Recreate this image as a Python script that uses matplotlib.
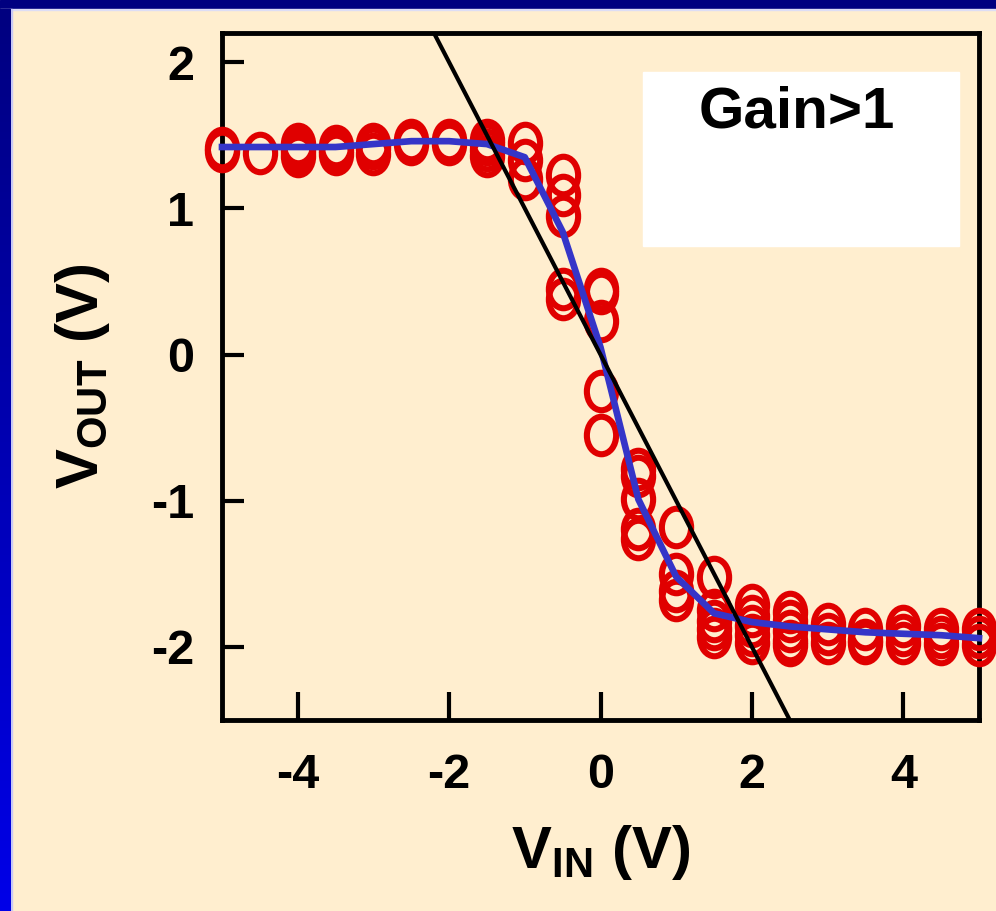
import numpy as np
import matplotlib
matplotlib.use('Agg')
import matplotlib.pyplot as plt
from matplotlib.path import Path

plt.rcParams['font.family'] = ['Liberation Sans', 'DejaVu Sans']
plt.rcParams['font.weight'] = 'bold'
plt.rcParams['axes.unicode_minus'] = False
plt.rcParams['mathtext.fontset'] = 'custom'
plt.rcParams['mathtext.rm'] = 'Liberation Sans:bold'
plt.rcParams['mathtext.bf'] = 'Liberation Sans:bold'
plt.rcParams['mathtext.it'] = 'Liberation Sans:bold'

# measured points (V_IN, V_OUT), several sweeps overlap at each V_IN
meas_x = ([-5]*2 + [-4.5] + [-4]*4 + [-3.5]*3 + [-3]*3 + [-2.5]*2 + [-2]*2
          + [-1.5]*4 + [-1]*3 + [-0.5]*5 + [0]*5 + [0.5]*5 + [1]*4 + [1.5]*5
          + [2]*5 + [2.5]*5 + [3]*3 + [3.5]*3 + [4]*3 + [4.5]*3 + [5]*3)
meas_y = [1.39, 1.41,
          1.38,
          1.36, 1.39, 1.42, 1.44,
          1.37, 1.40, 1.43,
          1.37, 1.41, 1.44,
          1.44, 1.47,
          1.44, 1.47,
          1.36, 1.40, 1.44, 1.47,
          1.45, 1.33, 1.20,
          1.23, 1.09, 0.95, 0.45, 0.38,
          0.45, 0.42, 0.23, -0.25, -0.55,
          -0.78, -0.83, -0.99, -1.19, -1.26,
          -1.18, -1.50, -1.62, -1.68,
          -1.52, -1.75, -1.82, -1.88, -1.93,
          -1.71, -1.79, -1.86, -1.92, -1.97,
          -1.76, -1.82, -1.89, -1.96, -1.99,
          -1.84, -1.91, -1.97,
          -1.88, -1.95, -1.97,
          -1.86, -1.92, -1.97,
          -1.88, -1.93, -1.98,
          -1.88, -1.93, -1.99]

# averaged transfer curve
avg_x = [-5, -4.5, -4, -3.5, -3, -2.5, -2, -1.5, -1, -0.5, 0,
         0.5, 1, 1.5, 2, 2.5, 3, 3.5, 4, 4.5, 5]
avg_y = [1.42, 1.42, 1.42, 1.42, 1.44, 1.46, 1.46, 1.44, 1.35, 0.84, 0.05,
         -0.99, -1.52, -1.77, -1.83, -1.86, -1.88, -1.90, -1.91, -1.92, -1.94]

# unity gain reference (slope -1)
ref_x = [-2.6, 2.6]
ref_y = [2.6, -2.6]

beige = '#FFEECF'
fig = plt.figure(figsize=(9.96, 9.11), dpi=100)
fig.patch.set_facecolor(beige)

# slide frame: navy top band, blue gradient on the left
W, H = 996, 911
fig.add_artist(plt.Rectangle((0, 1 - 9/H), 1, 9/H, transform=fig.transFigure,
                             color='#000080', zorder=0))
fig.add_artist(plt.Rectangle((0, 1 - 10/H), 1, 1/H, transform=fig.transFigure,
                             color='#DDDDF5', zorder=0))
bax = fig.add_axes([0, 0, 10/W, 1 - 9/H])
grad = np.linspace(0, 1, 256).reshape(-1, 1)
cmap = matplotlib.colors.LinearSegmentedColormap.from_list('b', ['#0000E8', '#000080'])
bax.imshow(grad, aspect='auto', cmap=cmap, origin='lower')
bax.axis('off')
fig.add_artist(plt.Rectangle((10/W, 0), 1.5/W, 1 - 9/H, transform=fig.transFigure,
                             color='#C8C8F5', zorder=0))

ax = fig.add_axes([222/W, 1 - 720/H, (979 - 222)/W, (720 - 33)/H])
ax.set_facecolor(beige)

circ = Path.unit_circle()
ell = Path(circ.vertices * np.array([0.78, 1.0]), circ.codes)

ax.plot(meas_x, meas_y, ls='none', marker=ell, ms=27, mfc='none',
        mec='#E00000', mew=4.4, clip_on=False, zorder=3)
ax.plot(avg_x, avg_y, color='#3535C8', lw=4.8, zorder=4, clip_on=False)
ax.plot(ref_x, ref_y, color='black', lw=3.0, zorder=5)

ax.set_xlim(-5, 5)
ax.set_ylim(-2.5, 2.2)
ax.set_xticks([-4, -2, 0, 2, 4])
ax.set_yticks([-2, -1, 0, 1, 2])
for s in ax.spines.values():
    s.set_linewidth(3.5)
ax.tick_params(axis='x', direction='in', length=20, width=3, pad=24, labelsize=35)
ax.tick_params(axis='y', direction='in', length=16, width=3, pad=20, labelsize=35)

ax.set_xlabel(r'$\mathbf{V_{IN}}$ (V)', fontsize=43, fontweight='bold', labelpad=18)
ax.set_ylabel(r'$\mathbf{V_{OUT}}$ (V)', fontsize=43, fontweight='bold', labelpad=28)

# label box
fig.add_artist(plt.Rectangle((643/W, 1 - 246/H), (959 - 643)/W, (246 - 72)/H,
                             transform=fig.transFigure, color='white', zorder=6))
fig.text(797/W, 1 - 112/H, 'Gain>1', ha='center', va='center', fontsize=42,
         fontweight='bold', zorder=7)

fig.savefig('out.png', dpi=100, facecolor=beige)
